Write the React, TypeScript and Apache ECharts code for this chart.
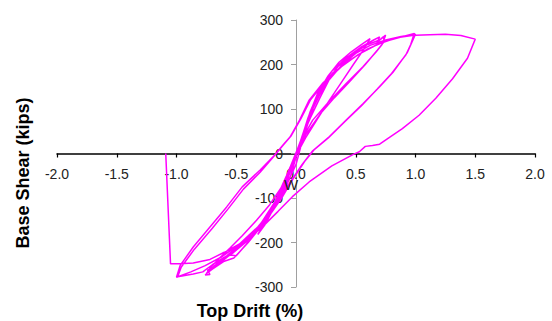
import React, { useEffect, useRef } from "react";
import * as echarts from "echarts";

// Top drift (%) values, in the recorded order
const driftPct: number[] = [
  0,
  0.05, 0.1, 0.15, 0.12, 0.07, 0.02, -0.04, -0.09, -0.14, -0.1, -0.05, 0,
  0.05, 0.11, 0.18, 0.25, 0.31, 0.27, 0.2, 0.12, 0.04, -0.03, -0.1, -0.18, -0.26, -0.32, -0.28, -0.2, -0.12, -0.04,
  0.03, 0.1, 0.18, 0.27, 0.36, 0.46, 0.55, 0.62, 0.57, 0.48, 0.38, 0.28, 0.18, 0.08, 0, -0.08, -0.17, -0.28, -0.4, -0.52, -0.62, -0.7, -0.75, -0.72, -0.64, -0.55, -0.45, -0.33, -0.22, -0.12, -0.04,
  0.04, 0.12, 0.2, 0.3, 0.42, 0.55, 0.65, 0.7, 0.68, 0.75, 0.72, 0.67, 0.56, 0.42, 0.28, 0.14, 0.04, -0.04, -0.12, -0.22, -0.35, -0.48, -0.6, -0.68, -0.74, -0.72, -0.76, -0.7, -0.62, -0.55, -0.5, -0.42, -0.3, -0.18, -0.08, 0,
  0.06, 0.14, 0.24, 0.35, 0.48, 0.6, 0.7, 0.73, 0.74, 0.68, 0.58, 0.45, 0.32, 0.2, 0.08, 0, -0.08, -0.18, -0.3, -0.45, -0.58, -0.68, -0.74, -0.7, -0.6, -0.52, -0.4, -0.28, -0.15, -0.05,
  0.02, 0.08, 0.16, 0.26, 0.38, 0.5, 0.62, 0.75, 0.88, 1.0, 0.97, 0.93, 0.81, 0.7, 0.56, 0.42, 0.28, 0.14, 0.05, -0.05, -0.18, -0.32, -0.48, -0.62, -0.76, -0.88, -0.96, -1.0, -0.97, -0.86, -0.72, -0.58, -0.45, -0.3, -0.18, -0.1, -0.05, 0.03, 0.11, 0.22, 0.34, 0.45, 0.6, 0.75, 0.88, 0.99,
  0.96, 0.92, 0.8, 0.68, 0.55, 0.41, 0.27, 0.15, 0.08, -0.02, -0.12, -0.25, -0.4, -0.55, -0.7, -0.78, -0.86, -0.99, -0.96, -0.85, -0.7, -0.57, -0.44, -0.3, -0.19, -0.11, -0.04, 0.04, 0.12, 0.24, 0.38, 0.52, 0.68, 0.84, 1.0,
  1.12, 1.25, 1.38, 1.5, 1.435, 1.31, 1.17, 1.03, 0.89, 0.77, 0.7, 0.64, 0.58, 0.53, 0.48, 0.3, 0.11, -0.03, -0.15, -0.3, -0.45, -0.6, -0.72, -0.86, -0.97, -1.05, -1.09,
];

// Base shear (kips) values, matching driftPct
const baseShear: number[] = [
  0,
  35, 72, 100, 82, 45, 8, -35, -72, -100, -75, -40, -5,
  38, 85, 130, 160, 182, 162, 125, 80, 30, -20, -70, -120, -160, -182, -165, -128, -85, -35,
  20, 80, 135, 175, 205, 228, 245, 258, 235, 200, 160, 120, 78, 35, -5, -55, -110, -160, -195, -222, -240, -258, -270, -258, -235, -212, -185, -150, -115, -75, -35,
  30, 95, 145, 185, 215, 240, 255, 262, 250, 266, 245, 228, 195, 157, 118, 75, 28, -25, -80, -135, -180, -212, -238, -255, -262, -272, -273, -258, -240, -228, -230, -205, -165, -120, -70, -25,
  35, 100, 155, 195, 225, 245, 255, 262, 252, 232, 200, 162, 125, 88, 42, 0, -50, -110, -160, -200, -230, -252, -268, -260, -242, -235, -200, -160, -110, -55,
  10, 60, 115, 160, 198, 225, 243, 255, 263, 268, 250, 226, 182, 150, 112, 75, 38, 6, -25, -65, -120, -165, -205, -232, -252, -266, -274, -278, -252, -210, -165, -120, -75, -37, -4, 22, 37, 75, 120, 157, 187, 210, 235, 252, 262, 270,
  245, 222, 180, 145, 108, 72, 35, 8, -15, -55, -100, -150, -192, -225, -250, -266, -271, -277, -255, -215, -168, -125, -80, -42, -8, 18, 40, 78, 120, 160, 195, 222, 245, 260, 266,
  267, 268, 265, 257, 214, 168, 124, 86, 56, 34, 21, 18, 16, 4, -2, -28, -64, -97, -130, -170, -200, -222, -238, -246, -248, -248, 0,
];

const xMin = -2;
const xMax = 2;
const xStep = 0.5;
const yMin = -300;
const yMax = 300;
const yStep = 100;

const FONT = "'Liberation Sans', Arial, sans-serif";

const GRID = { left: 57, right: 17, top: 20, bottom: 34 };
const W = 552;
const H = 321;

export default function App() {
  const ref = useRef<HTMLDivElement>(null);

  useEffect(() => {
    if (!ref.current) return;
    const chart = echarts.init(ref.current, undefined, { renderer: "svg" });
    const data = driftPct.map((x, i) => [x, baseShear[i]]);
    const gridW = W - GRID.left - GRID.right;
    const gridH = H - GRID.top - GRID.bottom;
    // axes cross at the origin (centre of the symmetric ranges)
    const xOffset = -gridH * ((0 - yMin) / (yMax - yMin));
    const yOffset = -gridW * ((0 - xMin) / (xMax - xMin));
    chart.setOption({
      animation: false,
      backgroundColor: "#ffffff",
      grid: GRID,
      xAxis: {
        type: "value",
        position: "bottom",
        offset: xOffset,
        min: xMin,
        max: xMax,
        interval: xStep,
        axisLine: { show: true, onZero: false, lineStyle: { color: "#000000", width: 1.5 } },
        axisTick: { show: true, length: 4, lineStyle: { color: "#000000", width: 1.2 } },
        axisLabel: {
          margin: 13,
          fontSize: 14,
          color: "#222222",
          fontFamily: FONT,
          formatter: (v: number) => v.toFixed(1),
        },
        splitLine: { show: false },
      },
      yAxis: {
        type: "value",
        position: "left",
        offset: yOffset,
        min: yMin,
        max: yMax,
        interval: yStep,
        axisLine: { show: true, onZero: false, lineStyle: { color: "#a0a0a0", width: 1 } },
        axisTick: { show: true, length: 5, lineStyle: { color: "#a0a0a0" } },
        axisLabel: {
          margin: 13,
          fontSize: 14,
          color: "#222222",
          fontFamily: FONT,
        },
        splitLine: { show: false },
      },
      series: [
        {
          type: "line",
          data,
          showSymbol: false,
          symbol: "none",
          lineStyle: { color: "#ff00ff", width: 1.5 },
          z: 5,
        },
      ],
      graphic: [
        {
          type: "text",
          x: 23,
          y: 173,
          rotation: Math.PI / 2,
          style: {
            text: "Base Shear (kips)",
            font: `bold 18px ${FONT}`,
            fill: "#000000",
            align: "center",
            verticalAlign: "middle",
          },
        },
        {
          type: "text",
          x: 250,
          y: 311,
          style: {
            text: "Top Drift (%)",
            font: `bold 18px ${FONT}`,
            fill: "#000000",
            align: "center",
            verticalAlign: "middle",
          },
        },
        {
          type: "text",
          x: 291,
          y: 184,
          z: 10,
          style: {
            text: "W",
            font: `15px ${FONT}`,
            fill: "#222222",
            align: "center",
            verticalAlign: "middle",
          },
        },
      ],
    });
    return () => chart.dispose();
  }, []);

  return (
    <div
      ref={ref}
      style={{ position: "fixed", left: 0, top: 0, width: W, height: H }}
    />
  );
}
